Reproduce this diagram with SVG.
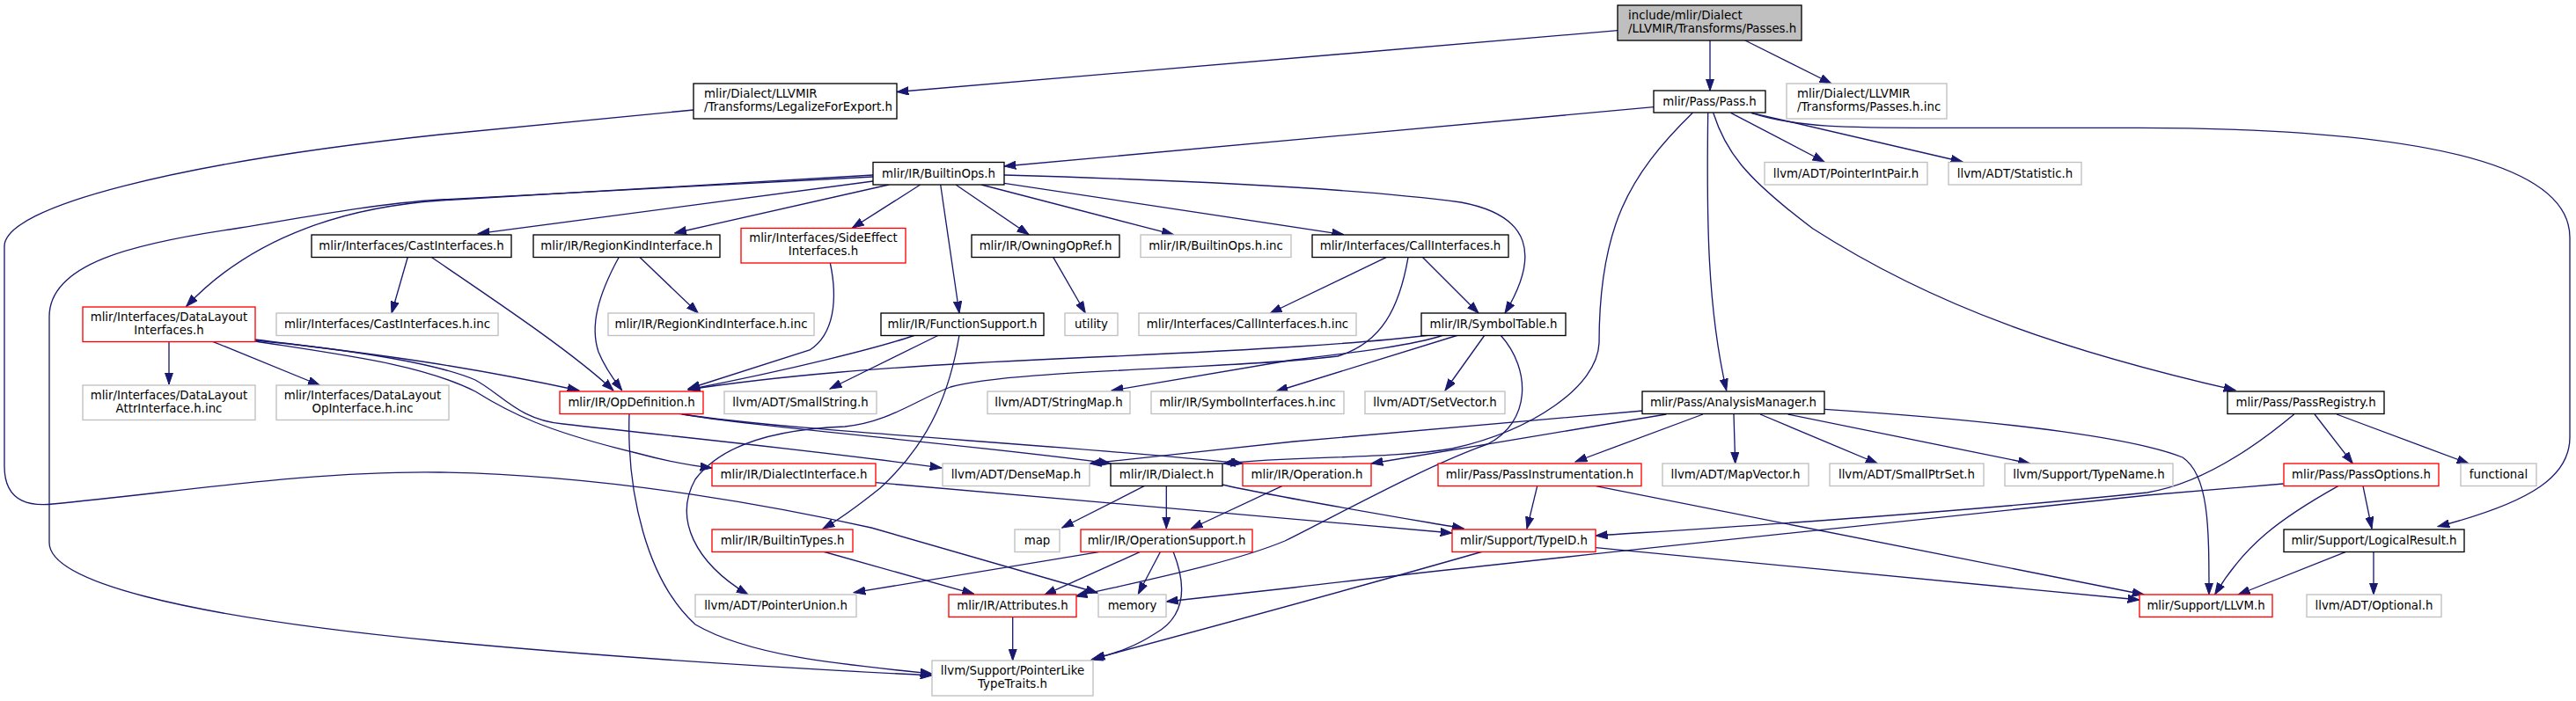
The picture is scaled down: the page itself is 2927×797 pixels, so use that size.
<svg xmlns="http://www.w3.org/2000/svg" width="2927" height="797" viewBox="0 0 2927 797">
<style>
.nb{fill:#ffffff;stroke:#000000;stroke-width:1.33}
.nr{fill:#ffffff;stroke:#ff0000;stroke-width:1.33}
.ng{fill:#ffffff;stroke:#bfbfbf;stroke-width:1.33}
.nroot{fill:#bfbfbf;stroke:#000000;stroke-width:1.33}
text{font-family:"DejaVu Sans","Liberation Sans",sans-serif;font-size:13.33px;fill:#000000}
.c{text-anchor:middle}
.l{text-anchor:start}
#edges path{fill:none;stroke:#191970;stroke-width:1.33;marker-end:url(#ah)}
</style>
<defs>
<marker id="ah" viewBox="0 0 14 10" refX="13.3" refY="5" markerWidth="14" markerHeight="10" markerUnits="userSpaceOnUse" orient="auto">
<path d="M0,0.4 L13.3,5 L0,9.6 Z" fill="#191970" stroke="#191970" stroke-width="1"/>
</marker>
</defs>
<rect width="2927" height="797" fill="#ffffff"/>
<g id="edges">
<path d="M1838,34.7 L1019,104.5"/>
<path d="M1943,46 L1943,103"/>
<path d="M1983,46 L2081,95"/>
<path d="M788,125 L500,153 C200,185 5,235 5,280 L5,530 C5,575 40,575 60,573 C200,560 350,535 500,537 C700,540 900,580 990,600 L1247,674"/>
<path d="M1879,121.7 L1141,189"/>
<path d="M1966.7,128.3 L2073,184"/>
<path d="M1990,128.3 L2230,184"/>
<path d="M1990,128.3 C2040,145 2100,145.3 2200,145.3 L2430,145.3 C2700,146 2920,175 2920,270 L2920,497 C2920,540 2880,570 2770,598.7"/>
<path d="M1946.7,128.3 C1960,170 1980,200 2060,260 C2200,350 2350,400 2540,443.7"/>
<path d="M1940.7,128.3 C1939,250 1940,350 1961.7,444"/>
<path d="M1923.3,128.3 C1850,200 1817,260 1817,390 C1815,440 1740,490 1650,510 C1580,522 1480,518 1390,527"/>
<path d="M1045.7,210 L968.3,259.3"/>
<path d="M1068.7,210 L1090,356"/>
<path d="M1086,210 L1169,266.7"/>
<path d="M1115,210 L1333.3,266.7"/>
<path d="M1141,208.3 L1526.7,266.7"/>
<path d="M1141,199 C1350,205 1550,215 1660,230 C1740,245 1750,290 1710,356"/>
<path d="M992,199 L500,228 C400,235 290,265 211.7,348.3"/>
<path d="M992,201 L500,227 C420,232 330,250 267,260 C150,277 56,300 56,360 L56,617 C56,660 200,700 500,729 C700,748 900,760 1059,768"/>
<path d="M992,206 L543,265.7"/>
<path d="M1010,210 L766.7,265"/>
<path d="M463.3,292.3 L445,356"/>
<path d="M490,292.3 C560,340 650,400 697,444"/>
<path d="M726.7,292.3 L793.3,356"/>
<path d="M703.3,292.3 C680,335 670,370 680,400 C688,420 700,435 706.7,443.7"/>
<path d="M943.3,299 C952,340 948,380 920,398 L782,442"/>
<path d="M1196.7,292.3 L1233.3,356"/>
<path d="M1575,292.7 L1443.3,356"/>
<path d="M1616.7,292.7 L1680,356"/>
<path d="M1600,292.7 C1590,350 1570,390 1520,405 C1400,420 1150,420 1080,440 C1040,455 1010,480 960,485 C880,488 820,505 790,545 C765,590 790,640 850,676"/>
<path d="M1040,381 C1000,395 900,420 782,443"/>
<path d="M1066.7,381 L943,442"/>
<path d="M1090,381 C1080,440 1060,500 1000,555 C975,575 955,590 935,601"/>
<path d="M1625,381 C1550,390 1450,397 1200,408 C1000,417 880,428 782,443"/>
<path d="M1640,381 C1600,395 1500,405 1470,409 L1263,444"/>
<path d="M1657,381 L1450,445"/>
<path d="M1687,381 L1642,444"/>
<path d="M1705,381 C1740,420 1740,480 1690,505 C1620,530 1530,580 1460,615 C1400,640 1300,660 1222,678"/>
<path d="M192,388 L192,437"/>
<path d="M241.7,388.3 L363.3,438"/>
<path d="M290,386 C400,400 500,410 658,444"/>
<path d="M290,387 C420,400 500,415 540,432 C570,448 590,478 640,482 C800,500 950,515 1070,532"/>
<path d="M290,388 C400,405 480,415 540,445 C580,470 620,490 723,515 C760,525 790,530 809,532"/>
<path d="M715,470 C712,560 735,660 790,710 C850,745 950,755 1059,766"/>
<path d="M770,470 C850,485 1100,505 1262,527"/>
<path d="M775,471 C900,490 1200,505 1412,527"/>
<path d="M1300,552.7 L1206.7,600"/>
<path d="M1325.3,552.7 L1325.3,601"/>
<path d="M1388.7,551 C1450,565 1600,590 1663.3,601"/>
<path d="M1456.7,552.7 L1353.3,601"/>
<path d="M995,548.7 C1200,565 1450,590 1650,606"/>
<path d="M935,627 L1106.7,675.3"/>
<path d="M1248.3,627.7 L970,673.7"/>
<path d="M1295,627.7 L1186.7,676.3"/>
<path d="M1318.3,627.7 L1293.3,675.3"/>
<path d="M1333.3,627.7 C1348,665 1348,700 1313,720 C1290,735 1270,742 1240,750"/>
<path d="M1150.7,702 L1150.7,751"/>
<path d="M1813.3,622.7 L2431,682"/>
<path d="M1685,627 C1500,680 1350,720 1242,749"/>
<path d="M1746.7,552.7 L1735,601"/>
<path d="M1813.3,552.7 L2436,676"/>
<path d="M1970,471 L1971.7,527"/>
<path d="M2000,471 L2133.3,527"/>
<path d="M2031.7,471 L2306.7,527"/>
<path d="M2073.3,465.3 C2300,480 2430,500 2480,520 C2510,540 2510,600 2510,676"/>
<path d="M1935,471 L1790,525"/>
<path d="M1893.3,471 L1558,527"/>
<path d="M1866.7,467 L1470,502 L1238,527"/>
<path d="M2630,471 L2673.3,527"/>
<path d="M2655,471 L2805,527"/>
<path d="M2606.7,471 C2560,510 2500,550 2440,560 C2200,585 1950,600 1813.3,609"/>
<path d="M2685,552.7 L2695,601"/>
<path d="M2656.7,552.7 C2590,590 2550,620 2516.7,676"/>
<path d="M2594.7,550 L2440,563 C2100,600 1700,640 1470,668 L1325.3,684"/>
<path d="M2665,627.7 L2543.3,676"/>
<path d="M2697,627.7 L2697,676"/>
</g>
<g id="n_root"><rect class="nroot" x="1838" y="6" width="209" height="40"/><text class="l" x="1850" y="21.5">include/mlir/Dialect</text><text class="l" x="1850" y="36.5">/LLVMIR/Transforms/Passes.h</text></g>
<g id="n_legal"><rect class="nb" x="788" y="95" width="231" height="40"/><text class="l" x="800" y="110.5">mlir/Dialect/LLVMIR</text><text class="l" x="800" y="125.5">/Transforms/LegalizeForExport.h</text></g>
<g id="n_pass"><rect class="nb" x="1879" y="103" width="127" height="25"/><text class="c" x="1942.5" y="120">mlir/Pass/Pass.h</text></g>
<g id="n_passesinc"><rect class="ng" x="2030" y="95" width="182" height="40"/><text class="l" x="2042" y="110.5">mlir/Dialect/LLVMIR</text><text class="l" x="2042" y="125.5">/Transforms/Passes.h.inc</text></g>
<g id="n_builtinops"><rect class="nb" x="992" y="184.5" width="149" height="25.5"/><text class="c" x="1066.5" y="201.7">mlir/IR/BuiltinOps.h</text></g>
<g id="n_ptrintpair"><rect class="ng" x="2005" y="184.5" width="185" height="25.5"/><text class="c" x="2097.5" y="201.7">llvm/ADT/PointerIntPair.h</text></g>
<g id="n_statistic"><rect class="ng" x="2214" y="184.5" width="151" height="25.5"/><text class="c" x="2289.5" y="201.7">llvm/ADT/Statistic.h</text></g>
<g id="n_cast"><rect class="nb" x="354" y="267" width="227" height="25.5"/><text class="c" x="467.5" y="284">mlir/Interfaces/CastInterfaces.h</text></g>
<g id="n_regionkind"><rect class="nb" x="606" y="267" width="212" height="25.5"/><text class="c" x="712" y="284">mlir/IR/RegionKindInterface.h</text></g>
<g id="n_sideeffect"><rect class="nr" x="842" y="259.5" width="187" height="39.5"/><text class="c" x="935.5" y="274.5">mlir/Interfaces/SideEffect</text><text class="c" x="935.5" y="289.5">Interfaces.h</text></g>
<g id="n_owning"><rect class="nb" x="1104" y="267" width="168" height="25.5"/><text class="c" x="1188" y="284">mlir/IR/OwningOpRef.h</text></g>
<g id="n_builtinopsinc"><rect class="ng" x="1296" y="267" width="171" height="25.5"/><text class="c" x="1381.5" y="284">mlir/IR/BuiltinOps.h.inc</text></g>
<g id="n_callif"><rect class="nb" x="1491" y="267" width="223" height="25.5"/><text class="c" x="1602.5" y="284">mlir/Interfaces/CallInterfaces.h</text></g>
<g id="n_datalayout"><rect class="nr" x="94" y="349" width="196" height="39.5"/><text class="c" x="192" y="364.5">mlir/Interfaces/DataLayout</text><text class="c" x="192" y="379.5">Interfaces.h</text></g>
<g id="n_castinc"><rect class="ng" x="314" y="356" width="252" height="25.5"/><text class="c" x="440" y="373">mlir/Interfaces/CastInterfaces.h.inc</text></g>
<g id="n_regionkindinc"><rect class="ng" x="691" y="356" width="234" height="25.5"/><text class="c" x="808" y="373">mlir/IR/RegionKindInterface.h.inc</text></g>
<g id="n_funcsupport"><rect class="nb" x="1001" y="356" width="185" height="25.5"/><text class="c" x="1093.5" y="373">mlir/IR/FunctionSupport.h</text></g>
<g id="n_utility"><rect class="ng" x="1210" y="356" width="60" height="25.5"/><text class="c" x="1240" y="373">utility</text></g>
<g id="n_callifinc"><rect class="ng" x="1294" y="356" width="247" height="25.5"/><text class="c" x="1417.5" y="373">mlir/Interfaces/CallInterfaces.h.inc</text></g>
<g id="n_symtable"><rect class="nb" x="1615" y="356" width="164" height="25.5"/><text class="c" x="1697" y="373">mlir/IR/SymbolTable.h</text></g>
<g id="n_dlattr"><rect class="ng" x="94" y="438" width="196" height="39.5"/><text class="c" x="192" y="453.5">mlir/Interfaces/DataLayout</text><text class="c" x="192" y="468.5">AttrInterface.h.inc</text></g>
<g id="n_dlop"><rect class="ng" x="314" y="438" width="196" height="39.5"/><text class="c" x="412" y="453.5">mlir/Interfaces/DataLayout</text><text class="c" x="412" y="468.5">OpInterface.h.inc</text></g>
<g id="n_opdef"><rect class="nr" x="636" y="445" width="163" height="25.5"/><text class="c" x="717.5" y="462">mlir/IR/OpDefinition.h</text></g>
<g id="n_smallstring"><rect class="ng" x="823" y="445" width="173" height="25.5"/><text class="c" x="909.5" y="462">llvm/ADT/SmallString.h</text></g>
<g id="n_stringmap"><rect class="ng" x="1122" y="445" width="162" height="25.5"/><text class="c" x="1203" y="462">llvm/ADT/StringMap.h</text></g>
<g id="n_syminc"><rect class="ng" x="1308" y="445" width="219" height="25.5"/><text class="c" x="1417.5" y="462">mlir/IR/SymbolInterfaces.h.inc</text></g>
<g id="n_setvector"><rect class="ng" x="1551" y="445" width="159" height="25.5"/><text class="c" x="1630.5" y="462">llvm/ADT/SetVector.h</text></g>
<g id="n_analysis"><rect class="nb" x="1866" y="445" width="207" height="25.5"/><text class="c" x="1969.5" y="462">mlir/Pass/AnalysisManager.h</text></g>
<g id="n_passregistry"><rect class="nb" x="2531" y="445" width="178" height="25.5"/><text class="c" x="2620" y="462">mlir/Pass/PassRegistry.h</text></g>
<g id="n_dialectif"><rect class="nr" x="809" y="527" width="186" height="25.5"/><text class="c" x="902" y="544">mlir/IR/DialectInterface.h</text></g>
<g id="n_densemap"><rect class="ng" x="1071" y="527" width="167" height="25.5"/><text class="c" x="1154.5" y="544">llvm/ADT/DenseMap.h</text></g>
<g id="n_dialect"><rect class="nb" x="1262" y="527" width="127" height="25.5"/><text class="c" x="1325.5" y="544">mlir/IR/Dialect.h</text></g>
<g id="n_operation"><rect class="nr" x="1412" y="527" width="146" height="25.5"/><text class="c" x="1485" y="544">mlir/IR/Operation.h</text></g>
<g id="n_passinstr"><rect class="nr" x="1634" y="527" width="231" height="25.5"/><text class="c" x="1749.5" y="544">mlir/Pass/PassInstrumentation.h</text></g>
<g id="n_mapvector"><rect class="ng" x="1889" y="527" width="166" height="25.5"/><text class="c" x="1972" y="544">llvm/ADT/MapVector.h</text></g>
<g id="n_smallptrset"><rect class="ng" x="2079" y="527" width="175" height="25.5"/><text class="c" x="2166.5" y="544">llvm/ADT/SmallPtrSet.h</text></g>
<g id="n_typename"><rect class="ng" x="2278" y="527" width="191" height="25.5"/><text class="c" x="2373.5" y="544">llvm/Support/TypeName.h</text></g>
<g id="n_passoptions"><rect class="nr" x="2595" y="527" width="176" height="25.5"/><text class="c" x="2683" y="544">mlir/Pass/PassOptions.h</text></g>
<g id="n_functional"><rect class="ng" x="2796" y="527" width="86" height="25.5"/><text class="c" x="2839" y="544">functional</text></g>
<g id="n_builtintypes"><rect class="nr" x="809" y="602" width="160" height="25.5"/><text class="c" x="889" y="619">mlir/IR/BuiltinTypes.h</text></g>
<g id="n_map"><rect class="ng" x="1153" y="602" width="51" height="25.5"/><text class="c" x="1178.5" y="619">map</text></g>
<g id="n_opsupport"><rect class="nr" x="1228" y="602" width="195" height="25.5"/><text class="c" x="1325.5" y="619">mlir/IR/OperationSupport.h</text></g>
<g id="n_typeid"><rect class="nr" x="1650" y="602" width="163" height="25.5"/><text class="c" x="1731.5" y="619">mlir/Support/TypeID.h</text></g>
<g id="n_logical"><rect class="nb" x="2595" y="602" width="205" height="25.5"/><text class="c" x="2697.5" y="619">mlir/Support/LogicalResult.h</text></g>
<g id="n_ptrunion"><rect class="ng" x="790" y="676" width="183" height="25.5"/><text class="c" x="881.5" y="693">llvm/ADT/PointerUnion.h</text></g>
<g id="n_attributes"><rect class="nr" x="1078" y="676" width="145" height="25.5"/><text class="c" x="1150.5" y="693">mlir/IR/Attributes.h</text></g>
<g id="n_memory"><rect class="ng" x="1248" y="676" width="77" height="25.5"/><text class="c" x="1286.5" y="693">memory</text></g>
<g id="n_llvm"><rect class="nr" x="2431" y="676" width="151" height="25.5"/><text class="c" x="2506.5" y="693">mlir/Support/LLVM.h</text></g>
<g id="n_optional"><rect class="ng" x="2621" y="676" width="153" height="25.5"/><text class="c" x="2697.5" y="693">llvm/ADT/Optional.h</text></g>
<g id="n_ptrlike"><rect class="ng" x="1059" y="751" width="183" height="40"/><text class="c" x="1150.5" y="766.5">llvm/Support/PointerLike</text><text class="c" x="1150.5" y="781.5">TypeTraits.h</text></g>
</svg>
